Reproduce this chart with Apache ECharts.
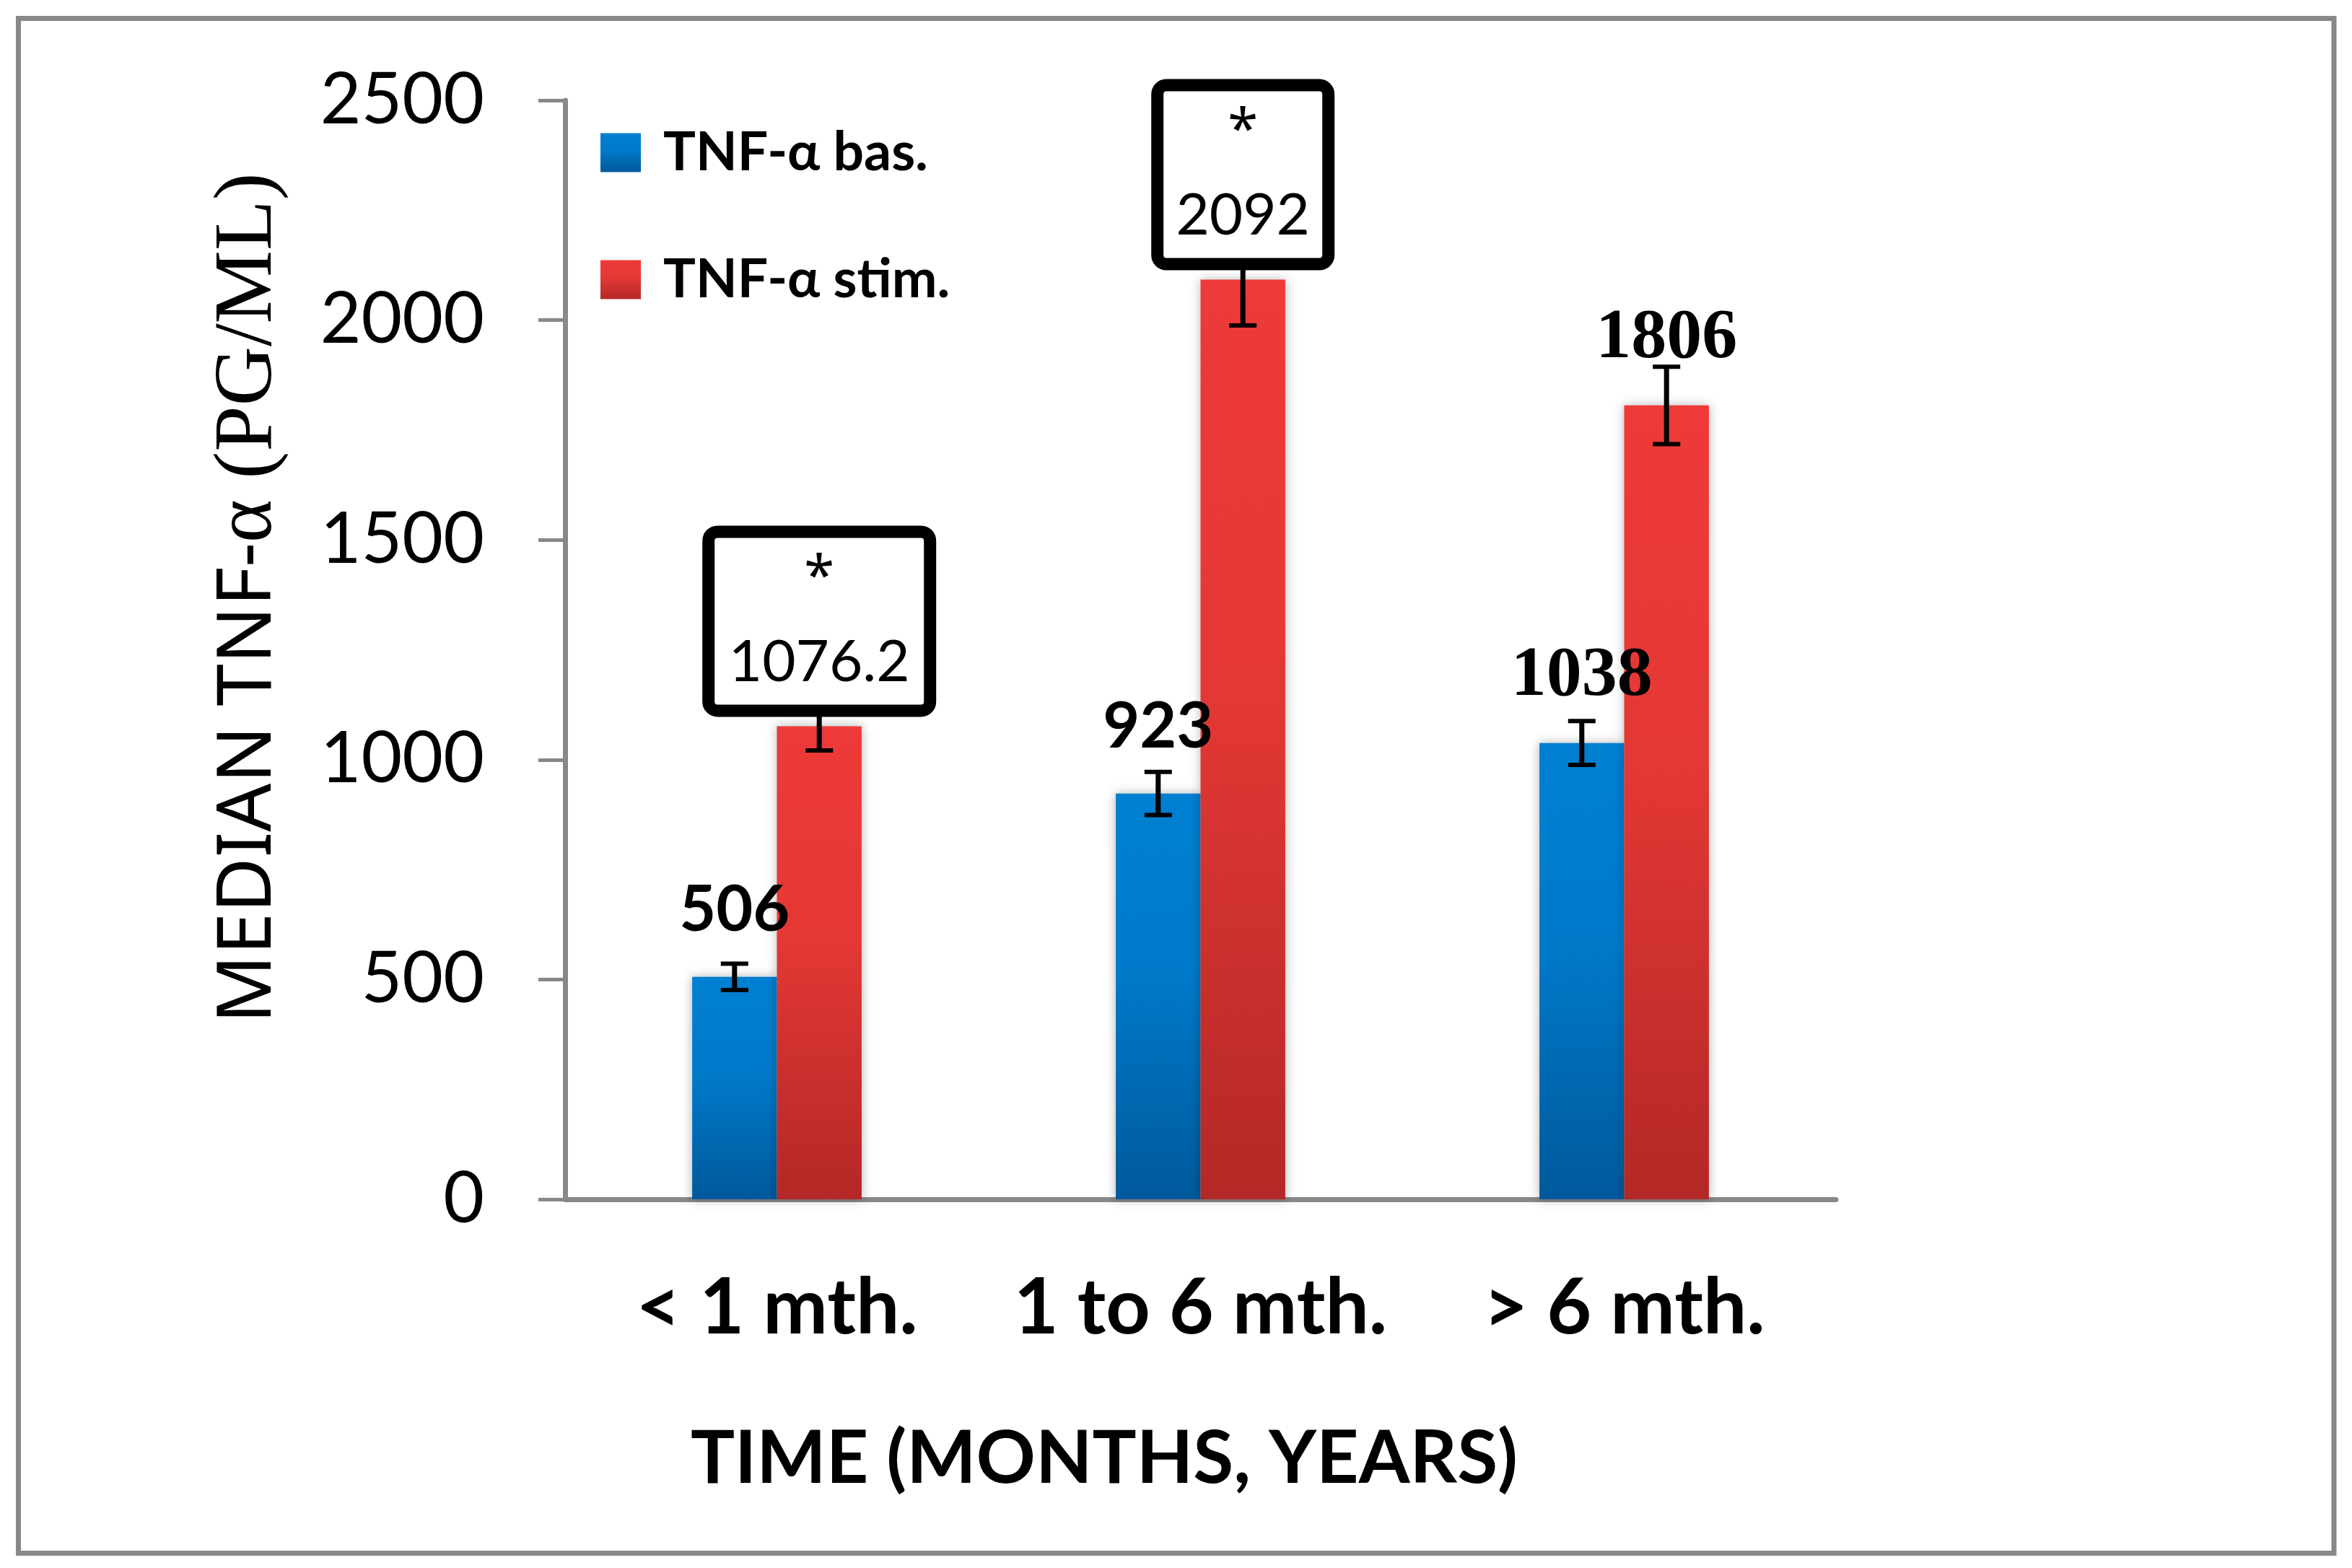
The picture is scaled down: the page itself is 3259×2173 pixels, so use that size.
<!DOCTYPE html>
<html><head><meta charset="utf-8">
<script src="https://cdn.jsdelivr.net/npm/echarts@6/dist/echarts.min.js"></script>
<style>html,body{margin:0;padding:0;background:#fff}#c{width:3259px;height:2173px}</style>
</head><body><div id="c"></div>
<script>
// ---- data ----
const categories = ['< 1 mth.', '1 to 6 mth.', '> 6 mth.'];
const seriesNames = ['TNF-α bas.', 'TNF-α stim.'];
const basValues = [506, 923, 1038];
const basErrors = [30, 49, 50];
const stimValues = [1076.2, 2092, 1806];
const stimErrors = [55, 104, 88];
const starred = [true, true, false];
const yAxisMin = 0, yAxisMax = 2500, yAxisStep = 500;
const yAxisTitle = ['MEDIAN TNF-', 'α (PG/ML)'];
const xAxisTitle = 'TIME (MONTHS, YEARS)';

// ---- styles ----
const chart = echarts.init(document.getElementById('c'), null, {renderer: 'canvas'});
const blueGrad = new echarts.graphic.LinearGradient(0, 0, 0, 1, [
  {offset: 0, color: '#0080D2'}, {offset: 0.45, color: '#0079C9'}, {offset: 1, color: '#00599B'}]);
const redGrad = new echarts.graphic.LinearGradient(0, 0, 0, 1, [
  {offset: 0, color: '#EE3A38'}, {offset: 0.45, color: '#E43835'}, {offset: 1, color: '#B32826'}]);

const sansLabel = {show: true, position: 'top', distance: 47, fontFamily: 'Lato', fontWeight: 'bold',
  fontSize: 88, lineHeight: 90, color: '#000'};
const serifLabel = {show: true, position: 'top', distance: 47, fontFamily: 'Liberation Serif', fontWeight: 'bold',
  fontSize: 98, lineHeight: 90, color: '#000'};
const boxWidths = [290, 220, 0];
function boxLabel(i) {
  return {
    show: true, position: 'top', distance: 30,
    formatter: p => '{s|*}\n{n|' + p.value + '}',
    backgroundColor: '#fff', borderColor: '#000', borderWidth: 17, borderRadius: 4,
    width: boxWidths[i], padding: 0, align: 'center',
    rich: {
      s: {fontFamily: 'Noto Sans', fontSize: 76, lineHeight: 114, color: '#000', align: 'center'},
      n: {fontFamily: 'Lato', fontSize: 80, lineHeight: 117, color: '#000', align: 'center'}
    }
  };
}
const basLabelData = basValues.map((v, i) => ({value: v, label: i === 2 ? serifLabel : sansLabel}));
const stimLabelData = stimValues.map((v, i) => ({value: v, label: starred[i] ? boxLabel(i) : serifLabel}));

function errSeries(vals, errs, side) {
  return {
    type: 'custom', xAxisIndex: 0, z: 3, silent: true,
    data: vals.map((v, i) => [i, v, errs[i]]),
    encode: {x: 0, y: 1},
    renderItem: (params, api) => {
      const i = api.value(0), v = api.value(1), e = api.value(2);
      const band = api.size([1, 0])[0];
      const cx = api.coord([i, v])[0] + side * band * 0.1;
      const yt = api.coord([i, v + e])[1], yb = api.coord([i, v - e])[1];
      const hw = 19;
      return {type: 'group', children: [
        {type: 'line', shape: {x1: cx, y1: yt, x2: cx, y2: yb}, style: {stroke: '#000', lineWidth: 7}},
        {type: 'line', shape: {x1: cx - hw, y1: yt, x2: cx + hw, y2: yt}, style: {stroke: '#000', lineWidth: 6}},
        {type: 'line', shape: {x1: cx - hw, y1: yb, x2: cx + hw, y2: yb}, style: {stroke: '#000', lineWidth: 6}}
      ]};
    }
  };
}

const barCommon = {type: 'bar', barGap: '0%', barCategoryGap: '60%', emphasis: {disabled: true}};

const option = {
  animation: false,
  backgroundColor: '#fff',
  grid: {left: 783, right: 715, top: 139, bottom: 511, containLabel: false},
  legend: {
    data: seriesNames, orient: 'vertical', left: 827, top: 169, itemWidth: 56, itemHeight: 54,
    itemGap: 101, icon: 'rect', selectedMode: false,
    itemStyle: {shadowBlur: 0, shadowColor: 'transparent'},
    textStyle: {fontFamily: 'Lato', fontWeight: 'bold', fontSize: 75, lineHeight: 54,
      color: '#000', padding: [0, 0, 0, 26]}
  },
  xAxis: [
    {type: 'category', data: categories,
      axisLine: {show: true, lineStyle: {color: '#888', width: 7}},
      axisTick: {show: false},
      axisLabel: {interval: 0, fontFamily: 'Lato', fontWeight: 'bold', fontSize: 107, color: '#000', margin: 98}},
    {type: 'category', data: categories, show: false}
  ],
  yAxis: {
    type: 'value', min: yAxisMin, max: yAxisMax, interval: yAxisStep,
    axisLine: {show: true, lineStyle: {color: '#888', width: 7}},
    axisTick: {show: true, length: 37, lineStyle: {color: '#888', width: 5}},
    splitLine: {show: false},
    axisLabel: {fontFamily: 'Lato', fontSize: 98, color: '#000', margin: 112, formatter: v => String(v)}
  },
  series: [
    Object.assign({}, barCommon, {name: seriesNames[0], data: basValues, z: 2,
      itemStyle: {color: blueGrad, shadowBlur: 14, shadowColor: 'rgba(0,0,0,0.3)'}}),
    Object.assign({}, barCommon, {name: seriesNames[1], data: stimValues, z: 2,
      itemStyle: {color: redGrad, shadowBlur: 14, shadowColor: 'rgba(0,0,0,0.3)'}}),
    errSeries(basValues, basErrors, -1),
    errSeries(stimValues, stimErrors, 1),
    Object.assign({}, barCommon, {name: 'lbl-bas', xAxisIndex: 1, data: basLabelData, z: 5, silent: true,
      itemStyle: {color: 'rgba(0,0,0,0)'}}),
    Object.assign({}, barCommon, {name: 'lbl-stim', xAxisIndex: 1, data: stimLabelData, z: 5, silent: true,
      itemStyle: {color: 'rgba(0,0,0,0)'}})
  ],
  graphic: [
    {type: 'rect', silent: true, z: -10, shape: {x: 25.5, y: 25.5, width: 3208.5, height: 2127},
      style: {fill: 'none', stroke: '#888', lineWidth: 7}},
    {type: 'text', silent: true, x: 345, y: 829, rotation: Math.PI / 2,
      style: {text: '{a|' + yAxisTitle[0] + '}{b|' + yAxisTitle[1] + '}', align: 'center', verticalAlign: 'middle',
        rich: {a: {fontFamily: 'Noto Sans', fontSize: 105, fill: '#000'},
               b: {fontFamily: 'Liberation Serif', fontSize: 114, fill: '#000'}}}},
    {type: 'text', silent: true, x: 1530, y: 2022,
      style: {text: xAxisTitle, fontFamily: 'Lato', fontWeight: 'bold', fontSize: 102, fill: '#000',
        align: 'center', verticalAlign: 'middle'}}
  ]
};
chart.setOption(option);
</script></body></html>
